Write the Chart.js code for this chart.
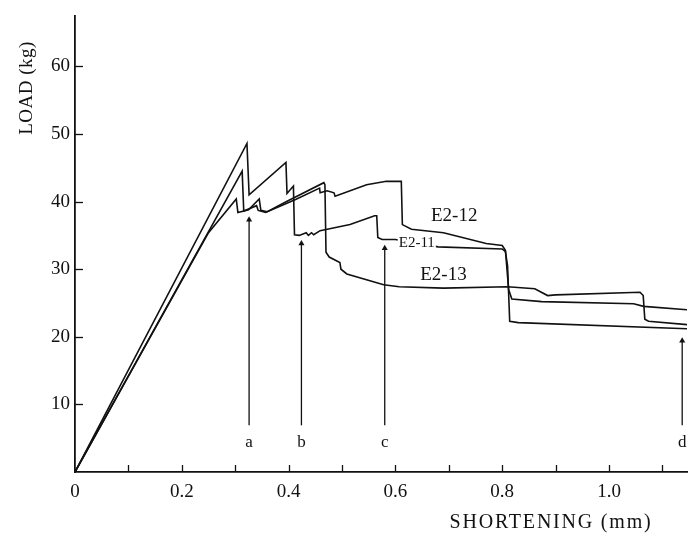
<!DOCTYPE html>
<html>
<head>
<meta charset="utf-8">
<script src="https://cdn.jsdelivr.net/npm/chart.js@4"></script>
<style>
    html, body { margin: 0; padding: 0; background: #fff; }
</style>
</head>
<body>
<canvas id="loadChart" width="696" height="540"></canvas>
<script>
// load-shortening curves
const e211X = [0, 0.322, 0.326, 0.395, 0.397, 0.409, 0.411, 0.42, 0.433, 0.437, 0.443, 0.447, 0.459, 0.515, 0.561, 0.565, 0.567, 0.575, 0.60, 0.68, 0.80, 0.806, 0.81, 0.814, 0.83, 1.146];
const e211Y = [0, 48.6, 41.0, 45.8, 41.2, 42.3, 35.1, 35.0, 35.4, 35.0, 35.4, 35.1, 35.7, 36.6, 37.9, 37.9, 34.7, 34.4, 34.4, 33.3, 33.0, 32.6, 30.5, 22.3, 22.1, 21.2];

const e212X = [0, 0.313, 0.316, 0.34, 0.343, 0.357, 0.413, 0.458, 0.459, 0.472, 0.485, 0.487, 0.546, 0.583, 0.611, 0.613, 0.63, 0.69, 0.77, 0.80, 0.806, 0.812, 0.818, 0.874, 1.046, 1.065, 1.146];
const e212Y = [0, 44.5, 38.6, 39.4, 38.7, 38.4, 40.3, 42.0, 41.3, 41.6, 41.3, 40.8, 42.5, 43.0, 43.0, 36.6, 35.9, 35.4, 33.8, 33.5, 32.8, 27.0, 25.6, 25.2, 24.9, 24.5, 24.0];

const e213X = [0, 0.25, 0.302, 0.305, 0.325, 0.345, 0.348, 0.36, 0.398, 0.466, 0.468, 0.47, 0.476, 0.496, 0.498, 0.509, 0.578, 0.607, 0.69, 0.81, 0.861, 0.885, 0.9, 1.058, 1.064, 1.067, 1.074, 1.146];
const e213Y = [0, 35.4, 40.4, 38.4, 38.8, 40.4, 38.7, 38.5, 40.1, 42.8, 42.5, 32.5, 31.8, 31.0, 30.0, 29.3, 27.7, 27.4, 27.2, 27.4, 27.1, 26.1, 26.2, 26.6, 26.1, 22.6, 22.3, 21.8];

// arrows a-d
const arrowNames = ["a", "b", "c", "d"];
const arrowX = [0.326, 0.424, 0.58, 1.137];
const arrowTop = [37.3, 33.8, 33.1, 19.4];
const arrowBottom = 6.9;
const letterY = 4.3;

// curve names
const curveNames = ["E2-12", "E2-11", "E2-13"];
const curveNameX = [0.71, 0.64, 0.69];
const curveNameY = [37.8, 33.9, 29.2];

const xMinorTicks = [0.1, 0.2, 0.3, 0.4, 0.5, 0.6, 0.7, 0.8, 0.9, 1.0, 1.1];
const yMajorTicks = [10, 20, 30, 40, 50, 60];

const serif = "'Liberation Serif', 'DejaVu Serif', serif";

function pts(xs, ys) {
    return xs.map((v, i) => ({ x: v, y: ys[i] }));
}

function curve(label, xs, ys) {
    return {
        label: label,
        data: pts(xs, ys),
        borderColor: "#111",
        borderWidth: 1.6,
        pointRadius: 0,
        tension: 0,
        fill: false
    };
}

const arrowSets = arrowX.map((ax, i) => ({
    label: "arrow " + arrowNames[i],
    data: [{ x: ax, y: arrowBottom }, { x: ax, y: arrowTop[i] }],
    borderColor: "#111",
    borderWidth: 1.3,
    pointStyle: "triangle",
    pointRadius: [0, 3.5],
    pointBackgroundColor: "#111",
    pointBorderColor: "#111",
    pointBorderWidth: 0,
    tension: 0,
    clip: false
}));

const overlay = {
    id: "overlay",
    afterDraw(chart) {
        const { ctx, scales: { x, y } } = chart;
        const x0 = x.getPixelForValue(0);
        const y0 = y.getPixelForValue(0);
        ctx.save();
        ctx.strokeStyle = "#111";
        ctx.lineWidth = 1.3;
        // inward tick marks
        xMinorTicks.forEach(v => {
            const px = Math.round(x.getPixelForValue(v)) + 0.5;
            ctx.beginPath();
            ctx.moveTo(px, y0);
            ctx.lineTo(px, y0 - 7);
            ctx.stroke();
        });
        yMajorTicks.forEach(v => {
            const py = Math.round(y.getPixelForValue(v)) + 0.5;
            ctx.beginPath();
            ctx.moveTo(x0, py);
            ctx.lineTo(x0 + 8, py);
            ctx.stroke();
        });

        ctx.fillStyle = "#111";
        ctx.textAlign = "center";
        ctx.textBaseline = "middle";

        // arrow letters
        ctx.font = "17px " + serif;
        arrowNames.forEach((n, i) => {
            ctx.fillText(n, x.getPixelForValue(arrowX[i]), y.getPixelForValue(letterY));
        });

        // curve names
        curveNames.forEach((n, i) => {
            const px = x.getPixelForValue(curveNameX[i]);
            const py = y.getPixelForValue(curveNameY[i]);
            ctx.font = (n === "E2-11" ? "15px " : "19px ") + serif;
            if (n === "E2-11") {
                const w = ctx.measureText(n).width;
                ctx.fillStyle = "#fff";
                ctx.fillRect(px - w / 2 - 1, py - 7, w + 2, 14);
                ctx.fillStyle = "#111";
            }
            ctx.fillText(n, px, py);
        });

        // axis titles
        ctx.font = "20px " + serif;
        ctx.letterSpacing = "1.8px";
        ctx.fillText("SHORTENING (mm)", 551, 523);
        ctx.letterSpacing = "0.5px";
        ctx.font = "19px " + serif;
        ctx.translate(27, 88);
        ctx.rotate(-Math.PI / 2);
        ctx.fillText("LOAD (kg)", 0, 0);
        ctx.restore();
    }
};

new Chart(document.getElementById("loadChart").getContext("2d"), {
    type: "line",
    data: {
        datasets: [
            curve("E2-11", e211X, e211Y),
            curve("E2-12", e212X, e212Y),
            curve("E2-13", e213X, e213Y),
            ...arrowSets
        ]
    },
    options: {
        responsive: false,
        animation: false,
        layout: { padding: { top: 10, right: 0, left: 0, bottom: 0 } },
        plugins: {
            legend: { display: false },
            tooltip: { enabled: false }
        },
        scales: {
            x: {
                type: "linear",
                min: 0,
                max: 1.146,
                afterFit(scale) { scale.height = 68; },
                grid: { display: true, drawOnChartArea: false, drawTicks: false },
                border: { display: true, color: "#111", width: 1.8 },
                ticks: {
                    stepSize: 0.1,
                    autoSkip: false,
                    maxRotation: 0,
                    padding: 9,
                    color: "#111",
                    font: { family: serif, size: 19 },
                    callback: function (value) {
                        const r = Math.round(value * 10);
                        if (Math.abs(value * 10 - r) > 1e-6 || r % 2) return "";
                        return r === 0 ? "0" : (r / 10).toFixed(1);
                    }
                }
            },
            y: {
                min: 0,
                max: 67.4,
                afterFit(scale) { scale.width = 75; },
                grid: { display: true, drawOnChartArea: false, drawTicks: false },
                border: { display: true, color: "#111", width: 1.8 },
                ticks: {
                    stepSize: 10,
                    autoSkip: false,
                    padding: 5,
                    color: "#111",
                    font: { family: serif, size: 19 },
                    callback: function (value) {
                        return (value > 0 && value % 10 === 0) ? String(value) : "";
                    }
                }
            }
        }
    },
    plugins: [overlay]
});
</script>
</body>
</html>
